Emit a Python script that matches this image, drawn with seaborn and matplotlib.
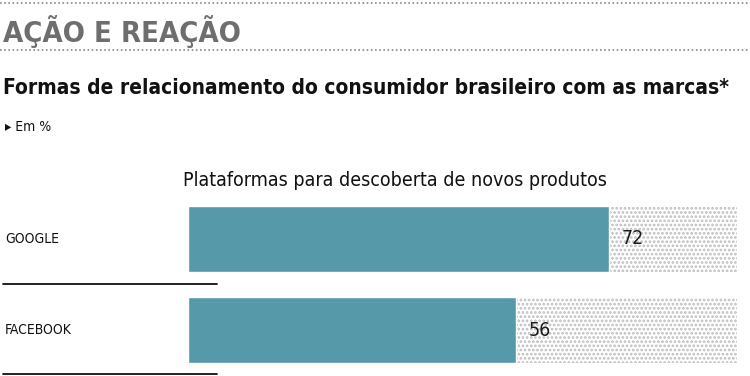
import numpy as np
import pandas as pd
import matplotlib
matplotlib.use("Agg")
import matplotlib.pyplot as plt
import seaborn as sns

# data
categories = ["GOOGLE", "FACEBOOK"]
values = [72, 56]
scale_max = 100

title = "AÇÃO E REAÇÃO"
subtitle = "Formas de relacionamento do consumidor brasileiro com as marcas*"
unit_note = "\u25B8 Em %"
chart_title = "Plataformas para descoberta de novos produtos"

sns.set_style("white")
plt.rcParams["font.family"] = ["DejaVu Sans"]
plt.rcParams["font.stretch"] = "condensed"
plt.rcParams["hatch.linewidth"] = 1.3

df = pd.DataFrame({"plataforma": categories, "valor": values})
bar_color = "#5699a8"

fig = plt.figure(figsize=(7.5, 3.76), dpi=100)
W, H = 750, 376
ax = fig.add_axes([188 / W, 1 - 375.5 / H, 549 / W, 182 / H])

# dotted track behind each bar
ax.barh(categories, [scale_max] * len(categories), height=0.725,
        color="white", edgecolor="#bdbdbd", linewidth=0, hatch="....", zorder=0)
sns.barplot(data=df, y="plataforma", x="valor", orient="h", color=bar_color,
            width=0.725, saturation=1, ax=ax, zorder=2)

for i, v in enumerate(values):
    ax.text(v + 2.2, i, str(v), va="center", ha="left", fontsize=14, color="#1a1a1a", zorder=3)

ax.set_xlim(0, 549 / 5.85)
ax.set_ylim(1.5, -0.5)
ax.set_axis_off()

# category labels + separators
for i, cat in enumerate(categories):
    yc = 239 + i * 91
    fig.text(5 / W, 1 - yc / H, cat, ha="left", va="center", fontsize=10, color="#111111")
    ysep = 1 - (284 + i * 90) / H
    fig.add_artist(plt.Line2D([3 / W, 217 / W], [ysep, ysep], color="#111111", lw=1.3))

# header
for yy in [3, 50]:
    fig.add_artist(plt.Line2D([0, 1], [1 - yy / H, 1 - yy / H], color="#888888",
                              lw=1.2, linestyle=(0, (1, 1.5))))
fig.text(3 / W, 1 - 31 / H, title, ha="left", va="center", fontsize=21,
         fontweight="bold", color="#6e6e6e")
fig.text(3 / W, 1 - 88 / H, subtitle, ha="left", va="center", fontsize=15,
         fontweight="semibold", color="#111111")
fig.text(5 / W, 1 - 127 / H, unit_note, ha="left", va="center", fontsize=10, color="#111111")
fig.text(395 / W, 1 - 180 / H, chart_title, ha="center", va="center", fontsize=14, color="#111111")

fig.savefig("out.png", dpi=100)
